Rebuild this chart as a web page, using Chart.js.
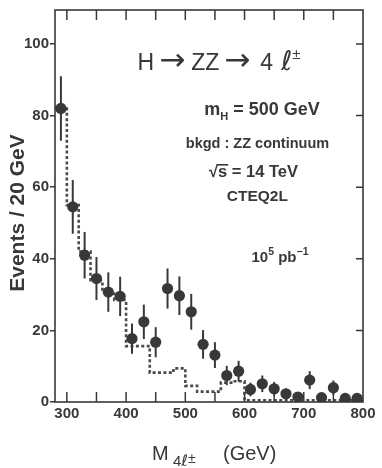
<!DOCTYPE html>
<html><head><meta charset="utf-8">
<script src="https://cdn.jsdelivr.net/npm/chart.js@4/dist/chart.umd.min.js"></script>
<style>html,body{margin:0;padding:0;background:#fff}</style>
</head><body>
<canvas id="c" width="382" height="468"></canvas>
<script>
// Signal + background pseudo-data (bin centres, 20 GeV bins)
const binCenters = [290,310,330,350,370,390,410,430,450,470,490,510,530,550,570,590,610,630,650,670,690,710,730,750,770,790];
const signalEvents = [82,54.5,41,34.5,30.7,29.5,17.7,22.4,16.7,31.7,29.7,25.2,16.1,13.1,7.4,8.6,3.5,5.1,3.7,2.3,1.4,6.1,1.2,4.0,1.0,1.0];
const signalErrors = [9,7.5,6.5,6,5.5,5.5,4.2,4.8,4.2,5.6,5.4,5,4,3.6,2.7,2.9,1.9,2.3,1.9,1.5,1.2,2.5,1.1,2,1,1];
// ZZ continuum background histogram (left bin edges + closing edge)
const bkgEdges = [280,300,320,340,360,380,400,420,440,460,480,500,520,540,560,580,600,620,640,660,680,700,720,740,760,780,800];
const bkgEvents = [82,55,42,34,31,28.5,15.6,15.6,8.2,8.2,9.4,4.5,2.9,2.9,5.4,5.8,0.5,0.5,0.5,0.5,0.5,0.5,0.5,0.5,0.5,0.5,0.5];
const xTickLabels = [300,400,500,600,700,800];
const yTickLabels = [0,20,40,60,80,100];

const F = '"Liberation Sans", Arial, Helvetica, sans-serif';
const DJ = '"DejaVu Sans", sans-serif';
const ink = '#383838';

function drawRuns(ctx, parts, x, base) {
  parts.forEach(p => { ctx.font = p.f; p.w = ctx.measureText(p.t).width + (p.gap || 0); });
  parts.forEach(p => { ctx.font = p.f; ctx.fillText(p.t, x, base + (p.dy || 0)); x += p.w; });
  return x;
}
function drawRunsCentered(ctx, parts, cx, base) {
  let w = 0;
  parts.forEach(p => { ctx.font = p.f; w += ctx.measureText(p.t).width + (p.gap || 0); });
  return drawRuns(ctx, parts, cx - w / 2, base);
}

const decor = {
  id: 'decor',
  beforeDatasetDraw(chart, args) {
    if (args.index !== 0) return;
    const ctx = chart.ctx, ys = chart.scales.y, a = chart.chartArea;
    const meta = chart.getDatasetMeta(0);
    ctx.save();
    ctx.beginPath(); ctx.rect(a.left, a.top, a.right - a.left, a.bottom - a.top); ctx.clip();
    ctx.strokeStyle = ink; ctx.lineWidth = 2;
    meta.data.forEach((pt, i) => {
      const v = signalEvents[i], e = signalErrors[i];
      ctx.beginPath();
      ctx.moveTo(pt.x, ys.getPixelForValue(v + e));
      ctx.lineTo(pt.x, ys.getPixelForValue(Math.max(0, v - e)));
      ctx.stroke();
    });
    ctx.restore();
  },
  afterDraw(chart) {
    const ctx = chart.ctx, a = chart.chartArea, xs = chart.scales.x, ys = chart.scales.y;
    ctx.save();
    ctx.strokeStyle = ink; ctx.lineWidth = 1.6;
    ctx.strokeRect(a.left, a.top, a.right - a.left, a.bottom - a.top);
    ctx.lineWidth = 1.5;
    ctx.beginPath();
    xs.ticks.forEach(t => {
      if (t.value <= xs.min || t.value >= xs.max) return;
      const px = xs.getPixelForValue(t.value);
      ctx.moveTo(px, a.bottom); ctx.lineTo(px, a.bottom - 10);
      ctx.moveTo(px, a.top); ctx.lineTo(px, a.top + 10);
    });
    ys.ticks.forEach(t => {
      if (t.value <= ys.min || t.value >= ys.max) return;
      const py = ys.getPixelForValue(t.value);
      ctx.moveTo(a.right, py); ctx.lineTo(a.right - 7, py);
    });
    ctx.stroke();

    ctx.fillStyle = ink; ctx.textAlign = 'left'; ctx.textBaseline = 'alphabetic';
    // Title
    drawRunsCentered(ctx, [
      {t: 'H', f: '23px ' + F, gap: 5},
      {t: '\u2192', f: '31px ' + DJ, gap: 6},
      {t: 'ZZ', f: '23px ' + F, gap: 5},
      {t: '\u2192', f: '31px ' + DJ, gap: 10},
      {t: '4', f: '23px ' + F, gap: 8},
      {t: '\u2113', f: '27px ' + DJ},
      {t: '\u00B1', f: '15px ' + F, dy: -11}
    ], 219, 70);
    drawRunsCentered(ctx, [
      {t: 'm', f: 'bold 18px ' + F},
      {t: 'H', f: 'bold 11px ' + F, dy: 4.5},
      {t: ' = 500 GeV', f: 'bold 18px ' + F}
    ], 262, 115);
    drawRunsCentered(ctx, [{t: 'bkgd : ZZ continuum', f: 'bold 14.5px ' + F}], 257.5, 148);
    // sqrt(s)
    ctx.font = 'bold 16.5px ' + F;
    const wS = ctx.measureText('s').width;
    const end = drawRunsCentered(ctx, [
      {t: '\u221A', f: 'bold 16.5px ' + F},
      {t: 's', f: 'bold 16.5px ' + F},
      {t: ' = 14 TeV', f: 'bold 16.5px ' + F}
    ], 253.5, 177);
    ctx.font = 'bold 16.5px ' + F;
    const wRest = ctx.measureText(' = 14 TeV').width;
    const sx = end - wRest - wS;
    ctx.fillRect(sx - 1, 177 - 13, wS + 2, 1.6);
    drawRunsCentered(ctx, [{t: 'CTEQ2L', f: 'bold 15.5px ' + F}], 257.3, 201);
    drawRunsCentered(ctx, [
      {t: '10', f: 'bold 15px ' + F},
      {t: '5', f: 'bold 10.5px ' + F, dy: -7},
      {t: ' pb', f: 'bold 15px ' + F},
      {t: '\u22121', f: 'bold 10.5px ' + F, dy: -7}
    ], 280, 261.5);

    // x-axis title
    drawRuns(ctx, [{t: 'M', f: '20px ' + F}], 152, 460);
    drawRuns(ctx, [{t: '4', f: '15px ' + F}, {t: '\u2113', f: '16px ' + DJ}, {t: '\u00B1', f: '14px ' + F, dy: -3}], 173, 466);
    drawRuns(ctx, [{t: '(GeV)', f: '20px ' + F}], 223, 460);

    // y-axis title
    ctx.translate(18, 213);
    ctx.rotate(-Math.PI / 2);
    ctx.textAlign = 'center'; ctx.textBaseline = 'middle';
    ctx.font = 'bold 21px ' + F;
    ctx.fillText('Events / 20 GeV', 0, 0);
    ctx.restore();
  }
};

new Chart(document.getElementById('c'), {
  data: {
    datasets: [
      {
        type: 'scatter',
        data: binCenters.map((x, i) => ({x, y: signalEvents[i]})),
        pointRadius: 5.6, pointHoverRadius: 5.6,
        pointBackgroundColor: ink, pointBorderColor: ink, pointBorderWidth: 0,
        showLine: false
      },
      {
        type: 'line',
        data: bkgEdges.map((x, i) => ({x, y: bkgEvents[i]})),
        stepped: 'before',
        borderColor: '#4a4a4a', borderWidth: 2.6, borderDash: [3, 2.4],
        pointRadius: 0, fill: false
      }
    ]
  },
  options: {
    responsive: false, animation: false,
    devicePixelRatio: 1,
    layout: {padding: {top: 8, right: 19, left: 0, bottom: 0}},
    plugins: {legend: {display: false}, tooltip: {enabled: false}},
    scales: {
      x: {
        type: 'linear', min: 280, max: 800,
        afterFit: s => { s.height = 66; },
        border: {display: false},
        grid: {display: false, drawTicks: false},
        ticks: {
          stepSize: 50, includeBounds: false, autoSkip: false, maxRotation: 0,
          padding: 3, color: ink, font: {family: F, size: 15, weight: 'bold'},
          callback: v => xTickLabels.includes(v) ? String(v) : ''
        }
      },
      y: {
        type: 'linear', min: 0, max: 109.5,
        afterFit: s => { s.width = 55; },
        border: {display: false},
        grid: {display: true, drawOnChartArea: false, drawTicks: true, tickLength: 5, color: ink, lineWidth: 1.5},
        ticks: {
          stepSize: 20, includeBounds: false, autoSkip: false,
          padding: 1, color: ink, font: {family: F, size: 15, weight: 'bold'},
          callback: v => yTickLabels.includes(v) ? String(v) : ''
        }
      }
    }
  },
  plugins: [decor]
});
</script>
</body></html>
